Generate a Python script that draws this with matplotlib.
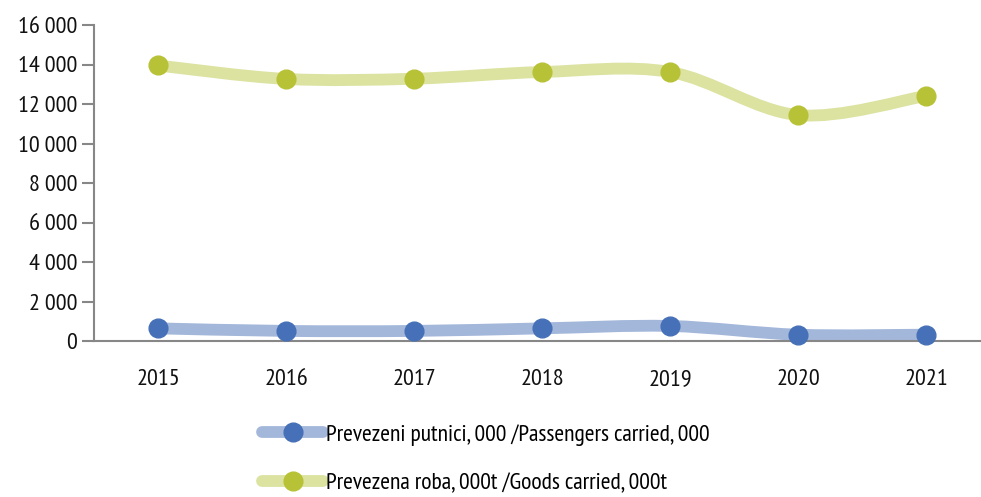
import matplotlib
matplotlib.use("Agg")
import matplotlib.pyplot as plt
from matplotlib.path import Path
from matplotlib.patches import PathPatch
from matplotlib.lines import Line2D
from matplotlib.ticker import FuncFormatter
from matplotlib import font_manager

years = ["2015", "2016", "2017", "2018", "2019", "2020", "2021"]
passengers = [640, 510, 510, 640, 760, 320, 320]
goods = [13950, 13270, 13280, 13620, 13620, 11440, 12410]

label_pass = "Prevezeni putnici, 000 /Passengers carried, 000"
label_goods = "Prevezena roba, 000t /Goods carried, 000t"

# condensed font similar to the original (Myriad Condensed)
names = {f.name for f in font_manager.fontManager.ttflist}
fam = "DejaVu Sans"
for cand in ["PT Sans Narrow", "Fira Sans Condensed", "Asap Condensed", "Roboto Condensed"]:
    if cand in names:
        fam = cand
        break
plt.rcParams["font.family"] = [fam, "DejaVu Sans"]


def smooth_path(xs, ys):
    # excel-style smoothed line: cubic bezier segments through every point
    pts = list(zip(xs, ys))
    verts = [pts[0]]
    codes = [Path.MOVETO]
    n = len(pts)
    for i in range(n - 1):
        p0 = pts[i - 1] if i > 0 else pts[i]
        p1 = pts[i]
        p2 = pts[i + 1]
        p3 = pts[i + 2] if i + 2 < n else pts[i + 1]
        c1 = (p1[0] + (p2[0] - p0[0]) / 6, p1[1] + (p2[1] - p0[1]) / 6)
        c2 = (p2[0] - (p3[0] - p1[0]) / 6, p2[1] - (p3[1] - p1[1]) / 6)
        verts += [c1, c2, p2]
        codes += [Path.CURVE4] * 3
    return Path(verts, codes)


fig = plt.figure(figsize=(9.81, 4.97), dpi=100)
ax = fig.add_axes([94 / 981, 1 - 341 / 497, (981 - 94) / 981, 316 / 497])

x = list(range(len(years)))
series = [
    (passengers, "#a3b7da", "#4670b7", label_pass),
    (goods, "#dce29f", "#b8c236", label_goods),
]
handles = []
for vals, lc, mc, lab in series:
    ax.add_patch(PathPatch(smooth_path(x, vals), facecolor="none", edgecolor=lc,
                           lw=8.5, capstyle="round", joinstyle="round", zorder=2,
                           clip_on=False))
    ax.plot(x, vals, ls="none", marker="o", ms=13.5, color=mc, zorder=3, clip_on=False)
    handles.append(Line2D([], [], color=lc, lw=8.5, solid_capstyle="round",
                          marker="o", ms=13.5, mfc=mc, mec=mc))

ax.set_xlim(-0.5, -0.5 + 887 / 128)
ax.set_ylim(0, 16000)
ax.set_yticks(range(0, 16001, 2000))
ax.yaxis.set_major_formatter(FuncFormatter(lambda v, p: f"{int(v):,}".replace(",", "\u2009")))
ax.set_xticks(x)
ax.set_xticklabels(years)

for s in ["top", "right"]:
    ax.spines[s].set_visible(False)
for s in ["left", "bottom"]:
    ax.spines[s].set_color("#878787")
    ax.spines[s].set_linewidth(1.5)
ax.tick_params(axis="y", length=9, width=1.5, color="#878787", labelsize=17.5, pad=3)
ax.tick_params(axis="x", length=0, labelsize=17.5, pad=20)
for t in ax.get_xticklabels() + ax.get_yticklabels():
    t.set_color("#111111")

fig.legend(handles, [label_pass, label_goods], loc="upper left",
           bbox_to_anchor=(262 / 981, 1 - 424 / 497), frameon=False,
           fontsize=17, handlelength=2.6, handletextpad=0.1, labelspacing=1.15,
           borderpad=0, borderaxespad=0)

fig.savefig("out.png", dpi=100)
